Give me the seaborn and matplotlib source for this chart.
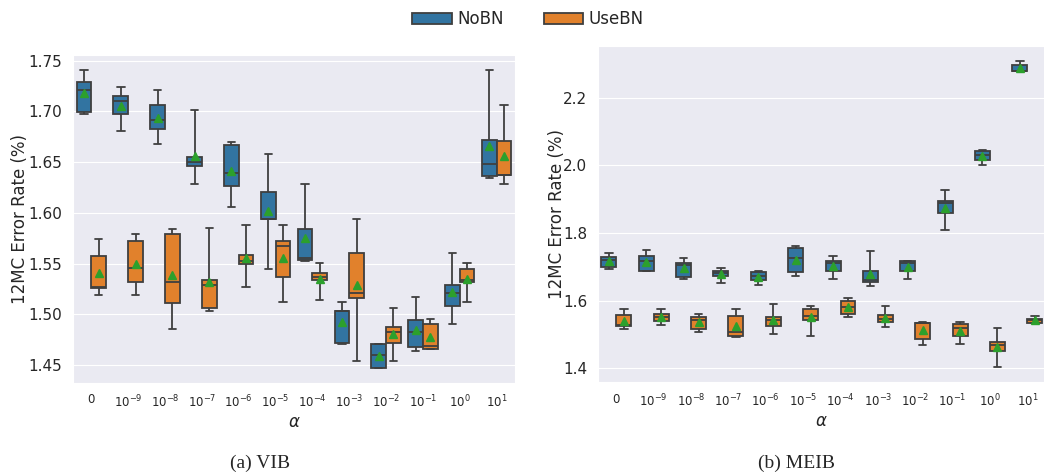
import numpy as np
import pandas as pd
import matplotlib
matplotlib.use("Agg")
import matplotlib.pyplot as plt
from matplotlib.ticker import MultipleLocator, FormatStrFormatter
import seaborn as sns

# Regularisation strengths (x categories) and their tick labels
alphas = ["0", "1e-9", "1e-8", "1e-7", "1e-6", "1e-5", "1e-4",
          "1e-3", "1e-2", "1e-1", "1e0", "1e1"]
alpha_labels = ["0", r"$10^{-9}$", r"$10^{-8}$", r"$10^{-7}$", r"$10^{-6}$",
                r"$10^{-5}$", r"$10^{-4}$", r"$10^{-3}$", r"$10^{-2}$",
                r"$10^{-1}$", r"$10^{0}$", r"$10^{1}$"]
variants = ["NoBN", "UseBN"]

# 12MC error rate (%) over five runs for each alpha
vib_nobn = [
    [1.6976, 1.6996, 1.7212, 1.7287, 1.7408],
    [1.6806, 1.6973, 1.7097, 1.7146, 1.7238],
    [1.6675, 1.6825, 1.6910, 1.7058, 1.7212],
    [1.6288, 1.6458, 1.6504, 1.6553, 1.7009],
    [1.6059, 1.6262, 1.6396, 1.6671, 1.6694],
    [1.5443, 1.5938, 1.5938, 1.6203, 1.6576],
    [1.5528, 1.5535, 1.5551, 1.5839, 1.6288],
    [1.4709, 1.4722, 1.5034, 1.5034, 1.5119],
    [1.4470, 1.4470, 1.4601, 1.4706, 1.4706],
    [1.4634, 1.4677, 1.4821, 1.4939, 1.5171],
    [1.4906, 1.5086, 1.5207, 1.5289, 1.5607],
    [1.6340, 1.6360, 1.6478, 1.6720, 1.7408],
]
vib_usebn = [
    [1.5191, 1.5256, 1.5273, 1.5574, 1.5741],
    [1.5191, 1.5322, 1.5456, 1.5721, 1.5793],
    [1.4857, 1.5109, 1.5322, 1.5790, 1.5839],
    [1.5037, 1.5060, 1.5289, 1.5338, 1.5852],
    [1.5273, 1.5492, 1.5528, 1.5587, 1.5879],
    [1.5119, 1.5371, 1.5676, 1.5721, 1.5876],
    [1.5142, 1.5338, 1.5371, 1.5407, 1.5505],
    [1.4536, 1.5158, 1.5207, 1.5600, 1.5938],
    [1.4536, 1.4722, 1.4824, 1.4873, 1.5060],
    [1.4657, 1.4657, 1.4690, 1.4903, 1.4952],
    [1.5119, 1.5322, 1.5338, 1.5443, 1.5505],
    [1.6288, 1.6373, 1.6373, 1.6707, 1.7058],
]
meib_nobn = [
    [1.6951, 1.6990, 1.7216, 1.7304, 1.7412],
    [1.6873, 1.6873, 1.7167, 1.7314, 1.7500],
    [1.6657, 1.6716, 1.7069, 1.7118, 1.7255],
    [1.6520, 1.6726, 1.6814, 1.6883, 1.6961],
    [1.6471, 1.6618, 1.6736, 1.6844, 1.6883],
    [1.6736, 1.6863, 1.7275, 1.7559, 1.7628],
    [1.6657, 1.6893, 1.7128, 1.7187, 1.7314],
    [1.6422, 1.6549, 1.6599, 1.6873, 1.7481],
    [1.6657, 1.6873, 1.7108, 1.7167, 1.7187],
    [1.8103, 1.8584, 1.8879, 1.8957, 1.9261],
    [2.0017, 2.0164, 2.0310, 2.0429, 2.0469],
    [2.2785, 2.2805, 2.2805, 2.2982, 2.3080],
]
meib_usebn = [
    [1.5177, 1.5245, 1.5275, 1.5569, 1.5746],
    [1.5295, 1.5393, 1.5520, 1.5618, 1.5765],
    [1.5079, 1.5157, 1.5422, 1.5520, 1.5618],
    [1.4932, 1.4961, 1.5089, 1.5550, 1.5746],
    [1.5010, 1.5265, 1.5442, 1.5530, 1.5902],
    [1.4961, 1.5442, 1.5540, 1.5765, 1.5844],
    [1.5520, 1.5618, 1.5814, 1.5991, 1.6079],
    [1.5226, 1.5373, 1.5461, 1.5569, 1.5834],
    [1.4706, 1.4873, 1.5354, 1.5354, 1.5383],
    [1.4726, 1.4961, 1.5206, 1.5324, 1.5363],
    [1.4040, 1.4510, 1.4687, 1.4785, 1.5187],
    [1.5354, 1.5354, 1.5422, 1.5471, 1.5559],
]


def long_frame(nobn, usebn):
    rows = []
    for name, runs in zip(variants, [nobn, usebn]):
        for a, vals in zip(alphas, runs):
            for v in vals:
                rows.append({"alpha": a, "bn": name, "err": v})
    return pd.DataFrame(rows)


sns.set_style("darkgrid")
plt.rcParams["font.family"] = ["DejaVu Sans"]

fig = plt.figure(figsize=(10.44, 4.76), dpi=100)
ax_vib = fig.add_axes([0.0699, 0.1954, 0.4234, 0.6891])
ax_meib = fig.add_axes([0.5725, 0.1968, 0.4294, 0.7065])

palette = ["#1f77b4", "#ff7f0e"]
mean_style = dict(marker="^", markerfacecolor="#2ca02c",
                  markeredgecolor="#2ca02c", markersize=5.5)

for ax, (nobn, usebn), step, fmt, ypad in [
    (ax_vib, (vib_nobn, vib_usebn), 0.05, "%.2f", 0.0),
    (ax_meib, (meib_nobn, meib_usebn), 0.2, "%.1f", -1.8),
]:
    df = long_frame(nobn, usebn)
    sns.boxplot(data=df, x="alpha", y="err", hue="bn", order=alphas,
                hue_order=variants, palette=palette, showmeans=True,
                meanprops=mean_style, whis=(0, 100), showfliers=False,
                linewidth=1.3, ax=ax)
    ax.set_xticks(range(len(alphas)))
    ax.set_xticklabels(alpha_labels, fontsize=8.5)
    ax.yaxis.set_major_locator(MultipleLocator(step))
    ax.yaxis.set_major_formatter(FormatStrFormatter(fmt))
    ax.tick_params(axis="y", labelsize=11, pad=4)
    ax.tick_params(axis="x", pad=4)
    ax.set_xlabel(r"$\alpha$", fontsize=12, labelpad=2)
    ax.set_ylabel("12MC Error Rate (%)", fontsize=12, labelpad=ypad)

handles, labels = ax_vib.get_legend_handles_labels()
ax_vib.get_legend().remove()
ax_meib.get_legend().remove()
fig.legend(handles, labels, loc="upper center", bbox_to_anchor=(0.506, 1.01),
           ncol=2, frameon=False, fontsize=12, handlelength=2.35,
           handletextpad=0.35, columnspacing=2.4)

fig.text(260 / 1044, 1 - 463 / 476, "(a) VIB", ha="center", va="center",
         fontsize=14, family="Liberation Serif")
fig.text(797 / 1044, 1 - 463 / 476, "(b) MEIB", ha="center", va="center",
         fontsize=14, family="Liberation Serif")

fig.savefig("out.png", dpi=100)
